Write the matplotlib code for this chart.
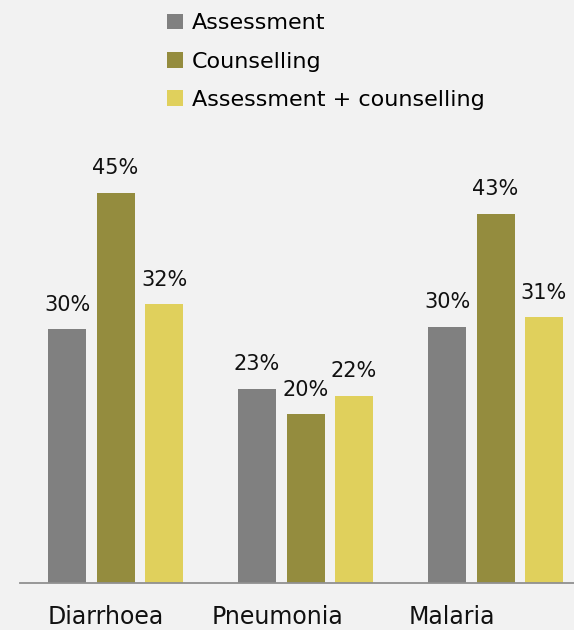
import numpy as np
import matplotlib
matplotlib.use('Agg')
import matplotlib.pyplot as plt

plt.rcParams['font.family'] = ['DejaVu Sans']

categories = ['Diarrhoea', 'Pneumonia', 'Malaria']
series = ['Assessment', 'Counselling', 'Assessment + counselling']
assessment = [29.5, 22.6, 29.8]
counselling = [45.4, 19.6, 42.9]
combined = [32.4, 21.8, 30.9]

colors = ['#808080', '#948c3e', '#e0d05c']
bg = '#f2f2f2'

fig = plt.figure(figsize=(5.74, 6.30), dpi=100, facecolor=bg)
ax = fig.add_axes([20 / 574, 47 / 630, 554 / 574, 430 / 630], facecolor=bg)

x = np.arange(len(categories))
width = 0.2
step = 0.255
for i, (vals, name, c) in enumerate(zip([assessment, counselling, combined], series, colors)):
    pos = x + (i - 1) * step
    bars = ax.bar(pos, vals, width, color=c, label=name)
    for b, v in zip(bars, vals):
        ax.text(b.get_x() + b.get_width() / 2, v + 1.7, f'{round(v)}%',
                ha='center', va='bottom', fontsize=15, color='#111111')

ax.set_xlim(-0.503, 2.413)
ax.set_ylim(0, 50)
ax.set_yticks([])
label_shift = [-0.05, -0.15, -0.23]
ax.set_xticks(x + np.array(label_shift))
ax.set_xticklabels(categories, fontsize=17, color='#111111')
ax.tick_params(axis='x', length=0, pad=16)
for s in ['top', 'right', 'left']:
    ax.spines[s].set_visible(False)
ax.spines['bottom'].set_color('#909090')
ax.spines['bottom'].set_linewidth(1.3)

fig.legend(loc='upper left', bbox_to_anchor=(154 / 574, 1.0), frameon=False,
           fontsize=16, handlelength=0.7, handleheight=0.7, handletextpad=0.4,
           labelspacing=0.82, borderaxespad=0.2)

fig.savefig('out.png', dpi=100, facecolor=bg)
